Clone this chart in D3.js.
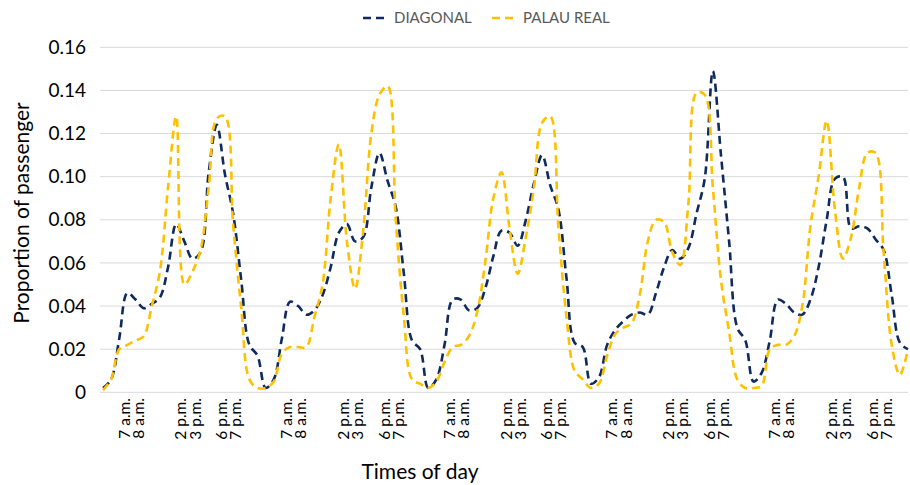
<!DOCTYPE html>
<html>
<head>
<meta charset="utf-8">
<script src="https://cdn.jsdelivr.net/npm/d3@7"></script>
<style>
  html, body { margin: 0; padding: 0; background: #fff; }
  svg { display: block; }
  text { font-family: Lato, "Open Sans", sans-serif; }
</style>
</head>
<body>
<svg id="chart" width="910" height="485"></svg>
<script>
// ---- data ----
const days = 5;
const slotsPerDay = 20;
const tickSlots = [3, 4, 10, 11, 15, 16];
const tickLabels = ["7 a.m.", "8 a.m.", "2 p.m.", "3 p.m.", "6 p.m.", "7 p.m."];
const yTicks = [0, 0.02, 0.04, 0.06, 0.08, 0.10, 0.12, 0.14, 0.16];
const seriesNames = ["DIAGONAL", "PALAU REAL"];
const diagonal = [
  .002,.006,.025,.046,.043,.039,.041,.044,.058,.078,.070,.062,.065,.102,.124,.101,.083,.052,.022,.017,
  .002,.006,.025,.042,.040,.036,.038,.045,.058,.074,.078,.070,.072,.095,.111,.098,.086,.055,.024,.020,
  .002,.006,.022,.043,.043,.038,.039,.048,.063,.075,.074,.068,.080,.097,.110,.096,.085,.053,.023,.021,
  .004,.007,.022,.029,.033,.036,.037,.036,.046,.058,.066,.062,.067,.083,.099,.149,.110,.070,.030,.024,
  .005,.009,.024,.043,.041,.037,.036,.043,.058,.080,.099,.100,.076,.077,.076,.071,.066,.045,.023,.020
];
const palauReal = [
  .001,.006,.020,.022,.024,.026,.040,.056,.095,.128,.050,.056,.066,.095,.127,.128,.078,.039,.006,.002,
  .002,.005,.018,.021,.021,.021,.035,.050,.090,.115,.070,.048,.075,.120,.138,.142,.080,.035,.006,.004,
  .002,.005,.014,.021,.022,.026,.037,.060,.090,.102,.076,.055,.072,.095,.125,.128,.077,.035,.010,.006,
  .002,.004,.017,.027,.030,.032,.045,.070,.080,.079,.065,.059,.088,.139,.138,.095,.052,.028,.006,.002,
  .002,.003,.020,.022,.022,.026,.040,.077,.100,.126,.085,.062,.072,.095,.111,.111,.065,.022,.008,.020
];
const colors = ["#0F2A5F", "#FFC000"];

// ---- chart ----
const svg = d3.select("#chart");
const plot = { left: 100, right: 908, top: 47.3, bottom: 392.3 };
const n = days * slotsPerDay;
const x = d3.scaleLinear().domain([0, n - 1]).range([103, 908]);
const y = d3.scaleLinear().domain([0, 0.16]).range([plot.bottom, plot.top]);

// gridlines
svg.append("g").selectAll("line").data(yTicks).join("line")
  .attr("x1", plot.left).attr("x2", plot.right)
  .attr("y1", d => y(d)).attr("y2", d => y(d))
  .attr("stroke", "#d9d9d9").attr("stroke-width", 1);

// y axis labels
svg.append("g").selectAll("text").data(yTicks).join("text")
  .attr("x", 86).attr("y", d => y(d)).attr("dy", "0.35em")
  .attr("text-anchor", "end").attr("font-size", 19).attr("fill", "#000")
  .text(d => d === 0 ? "0" : d.toFixed(2));

// x axis labels
const xTickData = [];
for (let dd = 0; dd < days; dd++) {
  tickSlots.forEach((s, i) => xTickData.push({ idx: dd * slotsPerDay + s, label: tickLabels[i], side: i % 2 === 0 ? -3 : 3 }));
}
svg.append("g").selectAll("text").data(xTickData).join("text")
  .attr("transform", d => `translate(${x(d.idx) + d.side},398) rotate(-90)`)
  .attr("dy", "0.33em").attr("text-anchor", "end")
  .attr("font-size", 15.5).attr("fill", "#000")
  .text(d => d.label);

// axis titles
svg.append("text").attr("transform", "translate(22,213) rotate(-90)")
  .attr("text-anchor", "middle").attr("dy", "0.35em").attr("font-size", 21).attr("fill", "#000")
  .text("Proportion of passenger");
svg.append("text").attr("x", 420).attr("y", 472)
  .attr("text-anchor", "middle").attr("dy", "0.35em").attr("font-size", 21).attr("fill", "#000")
  .text("Times of day");

// lines
const line = d3.line().x((d, i) => x(i)).y(d => y(d)).curve(d3.curveCatmullRom);
[diagonal, palauReal].forEach((s, i) => {
  svg.append("path").datum(s)
    .attr("d", line)
    .attr("fill", "none").attr("stroke", colors[i])
    .attr("stroke-width", 2.6).attr("stroke-dasharray", "8,5");
});

// legend
const legendX = [363, 492];
seriesNames.forEach((name, i) => {
  const g = svg.append("g");
  g.append("line").attr("x1", legendX[i]).attr("x2", legendX[i] + 25)
    .attr("y1", 18).attr("y2", 18)
    .attr("stroke", colors[i]).attr("stroke-width", 2.6).attr("stroke-dasharray", "8,5");
  g.append("text").attr("x", legendX[i] + 31).attr("y", 18).attr("dy", "0.35em")
    .attr("font-size", 15).attr("fill", "#595959").text(name);
});
</script>
</body>
</html>
